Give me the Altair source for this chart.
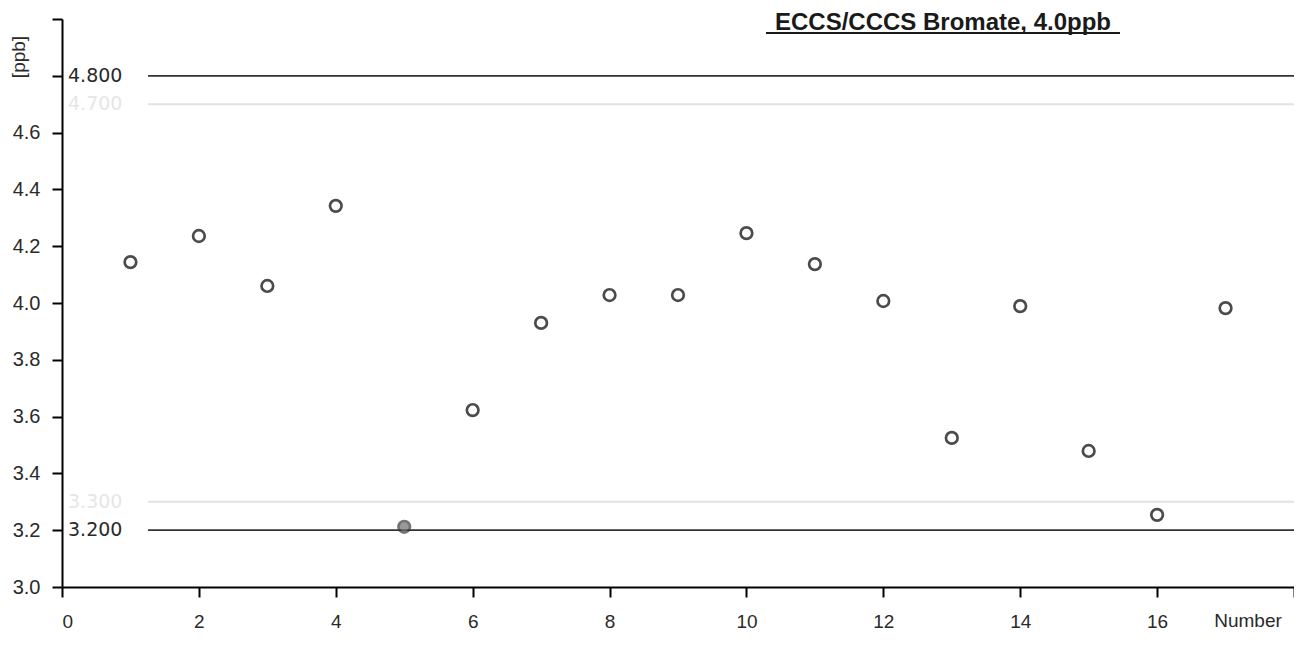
import altair as alt
import pandas as pd

numbers = list(range(1, 18))
values = [4.144, 4.236, 4.060, 4.342, 3.212, 3.623, 3.930, 4.028, 4.028,
          4.246, 4.137, 4.007, 3.525, 3.989, 3.479, 3.254, 3.982]
status = ["ok", "ok", "ok", "ok", "out", "ok", "ok", "ok", "ok",
          "ok", "ok", "ok", "ok", "ok", "ok", "ok", "ok"]

limit_values = [4.8, 3.2]
limit_labels = ["4.800", "3.200"]
warn_values = [4.7, 3.3]
warn_labels = ["4.700", "3.300"]

y_ticks = [3.0, 3.2, 3.4, 3.6, 3.8, 4.0, 4.2, 4.4, 4.6, 4.8, 5.0]
x_ticks = [0, 2, 4, 6, 8, 10, 12, 14, 16, 18]

W, H = 1232, 568
FONT = "Liberation Sans"

pts = pd.DataFrame({"Number": numbers, "ppb": values, "status": status})
lim = pd.DataFrame({"v": limit_values, "t": limit_labels})
warn = pd.DataFrame({"v": warn_values, "t": warn_labels})

xs = alt.Scale(domain=[0, 18], nice=False, zero=False)
ys = alt.Scale(domain=[3.0, 5.0], nice=False, zero=False)

x_axis = alt.Axis(values=x_ticks, title=None, labelExpr="datum.value == 18 ? '' : datum.label",
                  tickSize=10, labelPadding=15, labelFontSize=19)
y_axis = alt.Axis(values=y_ticks, title=None,
                  labelExpr="datum.value > 4.7 ? '' : format(datum.value, '.1f')",
                  tickSize=10, labelPadding=12, labelFontSize=20)

points = alt.Chart(pts).mark_point(shape="circle", size=135, strokeWidth=2.7, filled=False).encode(
    x=alt.X("Number:Q", scale=xs, axis=x_axis),
    y=alt.Y("ppb:Q", scale=ys, axis=y_axis),
    fill=alt.condition("datum.status == 'out'", alt.value("#6e6e6e"), alt.value("white")),
    stroke=alt.condition("datum.status == 'out'", alt.value("#3a3a3a"), alt.value("black")),
    strokeOpacity=alt.value(1),
    fillOpacity=alt.value(1),
)

warn_rules = alt.Chart(warn).mark_rule(color="#e2e2e2", strokeWidth=2).encode(
    y=alt.Y("v:Q", scale=ys), x=alt.value(86), x2=alt.value(W))
warn_text = alt.Chart(warn).mark_text(align="left", baseline="middle", font="DejaVu Sans",
                                      fontSize=19, color="#e6e6e6").encode(
    y=alt.Y("v:Q", scale=ys), x=alt.value(6), text="t:N")

lim_rules = alt.Chart(lim).mark_rule(color="#333333", strokeWidth=1.8).encode(
    y=alt.Y("v:Q", scale=ys), x=alt.value(86), x2=alt.value(W))
lim_text = alt.Chart(lim).mark_text(align="left", baseline="middle", font="DejaVu Sans",
                                    fontSize=19, color="#2a2a2a").encode(
    y=alt.Y("v:Q", scale=ys), x=alt.value(6), text="t:N")

title = alt.Chart(pd.DataFrame({"t": ["ECCS/CCCS Bromate, 4.0ppb"]})).mark_text(
    align="center", baseline="alphabetic", font=FONT, fontSize=24, fontWeight="bold", color="#1a1a1a"
).encode(x=alt.value(881), y=alt.value(11), text="t:N")
underline = alt.Chart(pd.DataFrame({"a": [0]})).mark_rule(color="#1a1a1a", strokeWidth=2).encode(
    x=alt.value(704), x2=alt.value(1058), y=alt.value(14))

ylab = alt.Chart(pd.DataFrame({"t": ["[ppb]"]})).mark_text(
    align="center", baseline="middle", angle=270, font=FONT, fontSize=19, color="#2a2a2a"
).encode(x=alt.value(-43), y=alt.value(38), text="t:N")
xlab = alt.Chart(pd.DataFrame({"t": ["Number"]})).mark_text(
    align="center", baseline="alphabetic", font=FONT, fontSize=19, color="#2a2a2a"
).encode(x=alt.value(1186), y=alt.value(608), text="t:N")

chart = alt.layer(warn_rules, warn_text, lim_rules, lim_text, points, title, underline, ylab, xlab).properties(
    width=W, height=H,
    autosize=alt.AutoSizeParams(type="none"),
    padding={"left": 54, "top": 11, "right": 0, "bottom": 46},
    background="white",
).configure_view(stroke=None).configure_axis(
    grid=False, domainColor="black", domainWidth=2, tickColor="black", tickWidth=2,
    labelColor="#2a2a2a", labelFont=FONT,
)

chart.save("out.html", embed_options={"renderer": "svg", "actions": False})
